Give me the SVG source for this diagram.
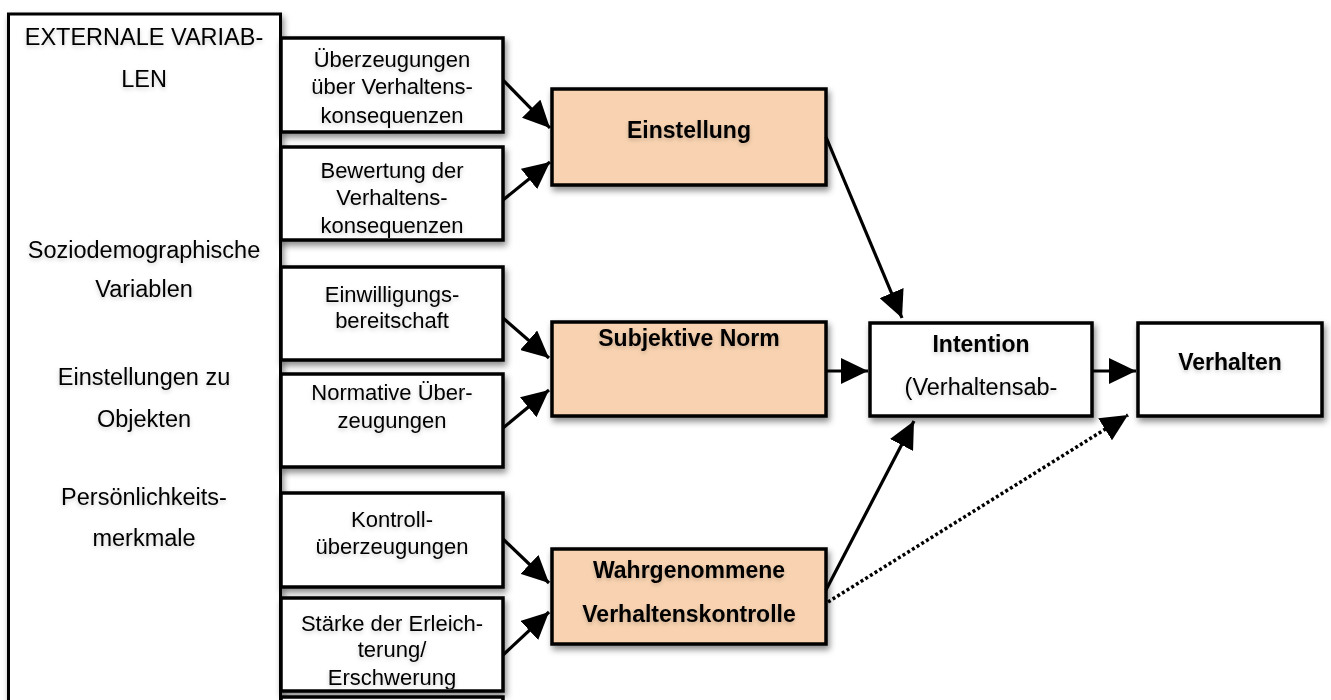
<svg xmlns="http://www.w3.org/2000/svg" width="1331" height="700" viewBox="0 0 1331 700">
  <style>
    .box { fill: #ffffff; stroke: #000000; stroke-width: 3.5; }
    .big { fill: #ffffff; stroke: #000000; stroke-width: 3; }
    .core { fill: #F9D3B1; stroke: #000000; stroke-width: 3.5; }
    .t { font-family: "Liberation Sans", Arial, sans-serif; font-size: 22px; fill: #000000; text-anchor: middle; }
    .tl { font-family: "Liberation Sans", Arial, sans-serif; font-size: 23.5px; fill: #000000; text-anchor: middle; }
    .tb { font-family: "Liberation Sans", Arial, sans-serif; font-size: 23px; font-weight: bold; fill: #000000; text-anchor: middle; }
    .edge { stroke: #000000; stroke-width: 3.2; fill: none; }
    .dot { stroke: #000000; stroke-width: 3.5; fill: none; stroke-dasharray: 3 2.5; }
  </style>
  <defs>
    <filter id="sh" x="-10%" y="-10%" width="125%" height="130%">
      <feDropShadow dx="2" dy="4" stdDeviation="3" flood-color="#000000" flood-opacity="0.45"/>
    </filter>
    <filter id="tsh" x="-10%" y="-30%" width="120%" height="170%">
      <feDropShadow dx="0" dy="2" stdDeviation="2" flood-color="#000000" flood-opacity="0.2"/>
    </filter>
    <marker id="ah" markerUnits="userSpaceOnUse" markerWidth="28" markerHeight="26" refX="27" refY="13" orient="auto">
      <path d="M0,0 L27,13 L0,26 z" fill="#000000"/>
    </marker>
    <clipPath id="c1"><rect x="281" y="38" width="222" height="93"/></clipPath>
    <clipPath id="c2"><rect x="281" y="147" width="222" height="91"/></clipPath>
    <clipPath id="c6"><rect x="281" y="598" width="222" height="91"/></clipPath>
  </defs>

  <g id="externale">
    <rect class="big" x="8.5" y="14" width="272" height="730" filter="url(#sh)"/>
    <g filter="url(#tsh)">
      <text class="tl" x="144" y="45">EXTERNALE VARIAB-</text>
      <text class="tl" x="144" y="87">LEN</text>
      <text class="tl" x="144" y="258">Soziodemographische</text>
      <text class="tl" x="144" y="297">Variablen</text>
      <text class="tl" x="144" y="385">Einstellungen zu</text>
      <text class="tl" x="144" y="427">Objekten</text>
      <text class="tl" x="144" y="505">Persönlichkeits-</text>
      <text class="tl" x="144" y="546">merkmale</text>
    </g>
  </g>

  <g id="ueberzeugungen">
    <rect class="box" x="281" y="38" width="222" height="94" filter="url(#sh)"/>
    <g clip-path="url(#c1)" filter="url(#tsh)">
      <text class="t" x="392" y="67">Überzeugungen</text>
      <text class="t" x="392" y="94">über Verhaltens-</text>
      <text class="t" x="392" y="123">konsequenzen</text>
    </g>
  </g>

  <g id="bewertung">
    <rect class="box" x="281" y="147" width="222" height="93" filter="url(#sh)"/>
    <g clip-path="url(#c2)" filter="url(#tsh)">
      <text class="t" x="392" y="178">Bewertung der</text>
      <text class="t" x="392" y="205">Verhaltens-</text>
      <text class="t" x="392" y="233">konsequenzen</text>
    </g>
  </g>

  <g id="einwilligung">
    <rect class="box" x="281" y="267" width="222" height="93" filter="url(#sh)"/>
    <g filter="url(#tsh)">
      <text class="t" x="392" y="302">Einwilligungs-</text>
      <text class="t" x="392" y="328">bereitschaft</text>
    </g>
  </g>

  <g id="normative">
    <rect class="box" x="281" y="374" width="222" height="93" filter="url(#sh)"/>
    <g filter="url(#tsh)">
      <text class="t" x="392" y="400">Normative Über-</text>
      <text class="t" x="392" y="428">zeugungen</text>
    </g>
  </g>

  <g id="kontroll">
    <rect class="box" x="281" y="493" width="222" height="94" filter="url(#sh)"/>
    <g filter="url(#tsh)">
      <text class="t" x="392" y="527">Kontroll-</text>
      <text class="t" x="392" y="554">überzeugungen</text>
    </g>
  </g>

  <g id="staerke">
    <rect class="box" x="281" y="598" width="222" height="93" filter="url(#sh)"/>
    <g clip-path="url(#c6)" filter="url(#tsh)">
      <text class="t" x="392" y="631">Stärke der Erleich-</text>
      <text class="t" x="392" y="657">terung/</text>
      <text class="t" x="392" y="685">Erschwerung</text>
    </g>
  </g>

  <g id="fragment">
    <rect class="box" x="281" y="697" width="222" height="40"/>
  </g>

  <g id="einstellung">
    <rect class="core" x="552" y="89" width="274" height="96" filter="url(#sh)"/>
    <text class="tb" x="689" y="138" filter="url(#tsh)">Einstellung</text>
  </g>

  <g id="subjektive-norm">
    <rect class="core" x="552" y="322" width="274" height="94" filter="url(#sh)"/>
    <text class="tb" x="689" y="346" filter="url(#tsh)">Subjektive Norm</text>
  </g>

  <g id="wahrgenommene">
    <rect class="core" x="552" y="549" width="274" height="95" filter="url(#sh)"/>
    <g filter="url(#tsh)">
      <text class="tb" x="689" y="578">Wahrgenommene</text>
      <text class="tb" x="689" y="622">Verhaltenskontrolle</text>
    </g>
  </g>

  <g id="intention">
    <rect class="box" x="870" y="323" width="222" height="93" filter="url(#sh)"/>
    <g filter="url(#tsh)">
      <text class="tb" x="981" y="352">Intention</text>
      <text class="tl" x="981" y="395">(Verhaltensab-</text>
    </g>
  </g>

  <g id="verhalten">
    <rect class="box" x="1138" y="323" width="184" height="93" filter="url(#sh)"/>
    <text class="tb" x="1230" y="370" filter="url(#tsh)">Verhalten</text>
  </g>

  <g id="connectors">
    <line class="edge" x1="503" y1="80" x2="550" y2="128" marker-end="url(#ah)"/>
    <line class="edge" x1="503" y1="200" x2="550" y2="162" marker-end="url(#ah)"/>
    <line class="edge" x1="503" y1="318" x2="549" y2="358" marker-end="url(#ah)"/>
    <line class="edge" x1="503" y1="428" x2="549" y2="390" marker-end="url(#ah)"/>
    <line class="edge" x1="503" y1="539" x2="549" y2="583" marker-end="url(#ah)"/>
    <line class="edge" x1="503" y1="655" x2="549" y2="612" marker-end="url(#ah)"/>
    <line class="edge" x1="826" y1="137" x2="902" y2="318" marker-end="url(#ah)"/>
    <line class="edge" x1="826" y1="371" x2="868" y2="371" marker-end="url(#ah)"/>
    <line class="edge" x1="1092" y1="371" x2="1136" y2="371" marker-end="url(#ah)"/>
    <line class="edge" x1="826" y1="590" x2="914" y2="421" marker-end="url(#ah)"/>
    <line class="dot" x1="828" y1="602" x2="1128" y2="415" marker-end="url(#ah)"/>
  </g>
</svg>
